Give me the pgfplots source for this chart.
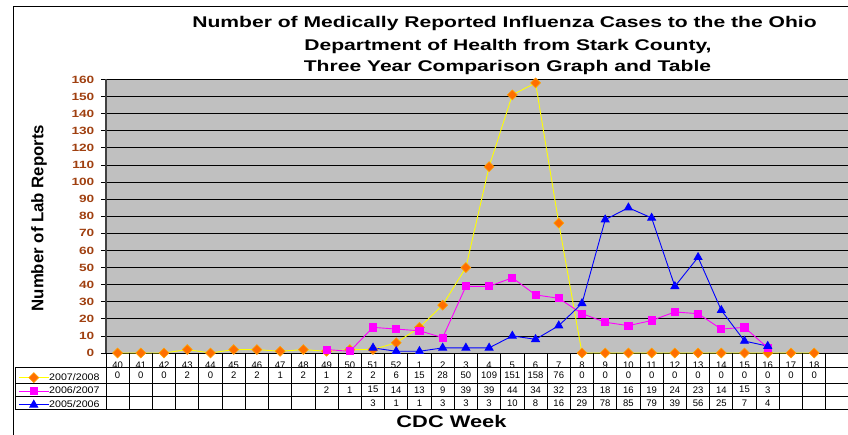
\documentclass[border=0pt]{standalone}
\usepackage{pgfplots}
\pgfplotsset{compat=1.18}
\usepackage{pgfplotstable}
\usepackage{graphicx}
\usepackage{fontspec}
\setmainfont{Liberation Sans}
\pgfkeys{/pgf/number format/assume math mode=true}
\definecolor{plotgray}{RGB}{192,192,192}
\definecolor{tickbrown}{RGB}{160,64,16}
\definecolor{sOrange}{RGB}{255,110,0}
\definecolor{sOrangeB}{RGB}{255,160,0}
\definecolor{sYellow}{RGB}{255,255,0}
\definecolor{sMag}{RGB}{255,0,255}
\definecolor{sBlue}{RGB}{0,0,255}
\newcommand\tabfont{\fontsize{9.5bp}{10bp}\selectfont}
\newcommand\hs[2]{\scalebox{#1}[1]{#2}}

% x index: 0..12 = weeks 40..52, 13..30 = weeks 1..18
\pgfplotstableread{
i v
0 0
1 0
2 0
3 2
4 0
5 2
6 2
7 1
8 2
9 1
10 2
11 2
12 6
13 15
14 28
15 50
16 109
17 151
18 158
19 76
20 0
21 0
22 0
23 0
24 0
25 0
26 0
27 0
28 0
29 0
30 0
}\tA
\pgfplotstableread{
i v
9 2
10 1
11 15
12 14
13 13
14 9
15 39
16 39
17 44
18 34
19 32
20 23
21 18
22 16
23 19
24 24
25 23
26 14
27 15
28 3
}\tB
\pgfplotstableread{
i v
11 3
12 1
13 1
14 3
15 3
16 3
17 10
18 8
19 16
20 29
21 78
22 85
23 79
24 39
25 56
26 25
27 7
28 4
}\tC

\begin{document}
\begin{tikzpicture}
\useasboundingbox (0,0) rectangle (848bp,435bp);
\fill[white] (0,0) rectangle (848bp,435bp);
\begin{scope}[x=1bp, y=-1bp, shift={(0,435bp)}]
  \draw[black, line width=1bp] (13.5,436) -- (13.5,6.7) -- (849,6.7);
  \node[anchor=base, font=\bfseries\fontsize{15.5bp}{18bp}\selectfont] at (504.5,27.3) {\hs{1.36}{Number of Medically Reported Influenza Cases to the the Ohio}};
  \node[anchor=base, font=\bfseries\fontsize{15.5bp}{18bp}\selectfont] at (508,50.7) {\hs{1.36}{Department of Health from Stark County,}};
  \node[anchor=base, font=\bfseries\fontsize{15.5bp}{18bp}\selectfont] at (507.5,71.3) {\hs{1.36}{Three Year Comparison Graph and Table}};
\end{scope}
\begin{axis}[
  at={(106bp,82bp)}, anchor=south west,
  scale only axis, width=743bp, height=273.5bp,
  xmin=-0.5, xmax=31.5, ymin=0, ymax=160,
  clip=false,
  axis background/.style={fill=plotgray},
  axis x line*=bottom, axis y line*=left,
  x axis line style={black, line width=0.9bp, -},
  y axis line style={black!75, line width=1.2bp, -},
  xtick={0,...,30},
  xticklabels={\mbox{40},\mbox{41},\mbox{42},\mbox{43},\mbox{44},\mbox{45},\mbox{46},\mbox{47},\mbox{48},\mbox{49},\mbox{50},\mbox{51},\mbox{52},\mbox{1},\mbox{2},\mbox{3},\mbox{4},\mbox{5},\mbox{6},\mbox{7},\mbox{8},\mbox{9},\mbox{10},\mbox{11},\mbox{12},\mbox{13},\mbox{14},\mbox{15},\mbox{16},\mbox{17},\mbox{18}},
  xtick style={draw=none},
  xticklabel style={font=\tabfont, anchor=center, inner sep=0pt, yshift=-7.3bp},
  ytick={0,10,...,160},
  yticklabel={\hs{1.3}{\pgfmathprintnumber{\tick}}},
  yticklabel style={font=\bfseries\fontsize{10.5bp}{11bp}\selectfont, text=tickbrown, inner sep=0pt, xshift=-6.5bp},
  ytick style={black, line width=0.8bp},
  tick align=outside, major tick length=5bp,
  ymajorgrids, grid style={black, line width=0.8bp},
  xlabel={\hs{1.3}{CDC Week}},
  xlabel style={font=\bfseries\fontsize{16.8bp}{18bp}\selectfont, at={(axis description cs:0.465,-0.2706)}, anchor=base},
  ylabel={Number of Lab Reports},
  ylabel style={font=\bfseries\fontsize{16.8bp}{18bp}\selectfont, at={(axis description cs:-0.0902,0.4936)}, anchor=center},
  legend style={at={(axis description cs:-0.118,-0.0651)}, anchor=north west, draw=none, fill=none, inner sep=0pt, outer sep=0pt,
    font=\tabfont, row sep=0pt, nodes={inner sep=0pt, minimum height=13.6bp}},
  legend cell align=left,
  legend image code/.code={\draw[mark repeat=2, mark phase=2, #1] plot coordinates {(0bp,0bp) (15bp,0bp) (30bp,0bp)};},
  every node near coord/.append style={anchor=center, text=black, font=\tabfont, inner sep=0pt},
  nodes near coords align={center},
]
\addplot[color=sYellow, line width=0.9bp, mark=square*, mark size=3.5bp,
  mark options={rotate=45, fill=sOrange, draw=sOrangeB, line width=0.6bp}] table[x=i, y=v] {\tA};
\addlegendentry{\hs{1.12}{2007/2008}}
\addplot[color=sMag, line width=0.9bp, mark=square*, mark size=3.6bp, mark options={fill=sMag}] table[x=i, y=v] {\tB};
\addlegendentry{\hs{1.12}{2006/2007}}
\addplot[color=sBlue, line width=0.9bp, mark=triangle*, mark size=4.5bp, mark options={fill=sBlue}] table[x=i, y=v] {\tC};
\addlegendentry{\hs{1.12}{2005/2006}}
% data table rows
\addplot[forget plot, draw=none, mark=none, nodes near coords, point meta=explicit] table[x=i, y expr=-13.19, meta=v] {\tA};
\addplot[forget plot, draw=none, mark=none, nodes near coords, point meta=explicit] table[x=i, y expr=-21.5, meta=v] {\tB};
\addplot[forget plot, draw=none, mark=none, nodes near coords, point meta=explicit] table[x=i, y expr=-29.1, meta=v] {\tC};
\end{axis}
\begin{scope}[x=1bp, y=-1bp, shift={(0,435bp)}]
  \foreach \yy in {367.7,383.3,396,409.3} \draw[black, line width=0.9bp] (15,\yy) -- (849,\yy);
  \draw[black, line width=0.9bp] (15,367.7) -- (15,409.3);
  \foreach \k in {0,...,31} \draw[black, line width=0.9bp] ({106+\k*23.22},353) -- ({106+\k*23.22},409.3);
\end{scope}
\end{tikzpicture}
\end{document}
